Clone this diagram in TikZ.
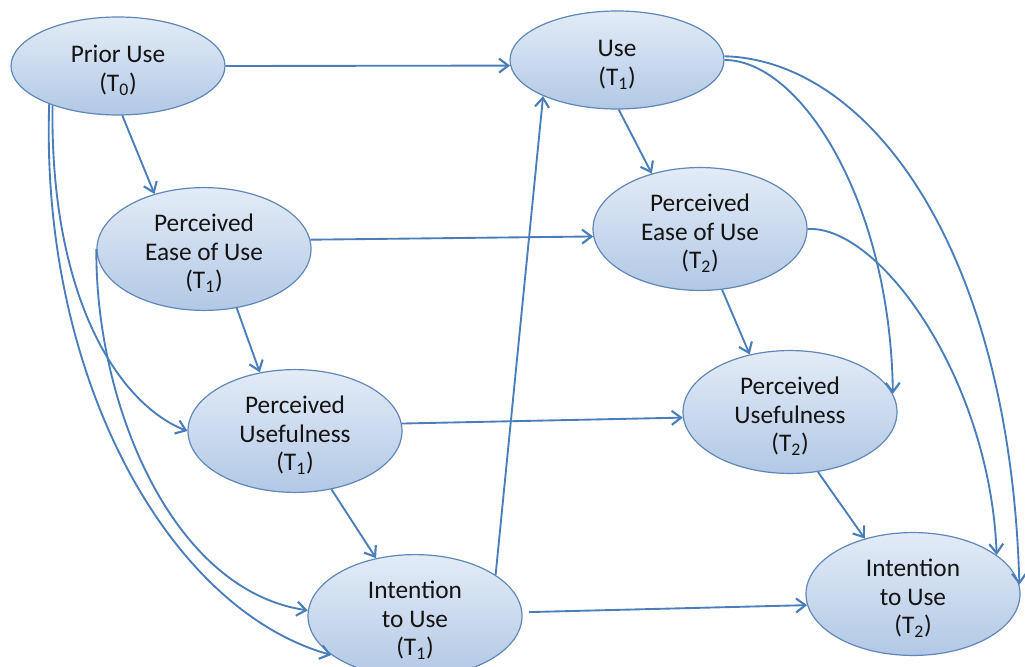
\documentclass[tikz,border=0pt]{standalone}
\usepackage{fontspec}
\setmainfont{Carlito}
\usetikzlibrary{shapes.geometric,arrows.meta}
\definecolor{linec}{HTML}{4A7EBB}
\definecolor{elborder}{HTML}{5F87BA}
\definecolor{eltop}{HTML}{E3ECF7}
\definecolor{elbot}{HTML}{B2C8E5}
\definecolor{txt}{HTML}{141414}
\newcommand{\topstrut}{\rule{0pt}{19.5pt}}
\tikzset{
  el/.style={ellipse, draw=elborder, line width=0.9pt, top color=eltop, bottom color=elbot,
    minimum width=160.5pt, minimum height=73.5pt, inner sep=0pt, align=center,
    text=txt, font=\fontsize{19}{21.5}\selectfont},
  arr/.style={draw=linec, line width=1.4pt, -{Straight Barb[length=7pt,width=10.5pt,line width=1.6pt]}},
}
\begin{document}
\begin{tikzpicture}[x=0.75pt,y=-0.75pt]
\useasboundingbox (0,0) rectangle (1025,667);
\fill[white] (0,0) rectangle (1025,667);

\node[el] (prior) at (118,66)  {\topstrut Prior Use\\(T\textsubscript{0})};
\node[el] (use1)  at (617,60)  {\topstrut Use\\(T\textsubscript{1})};
\node[el] (peou1) at (204,249) {\topstrut Perceived\\Ease of Use\\(T\textsubscript{1})};
\node[el] (peou2) at (700,229) {\topstrut Perceived\\Ease of Use\\(T\textsubscript{2})};
\node[el] (pu1)   at (295,431) {\topstrut Perceived\\Usefulness\\(T\textsubscript{1})};
\node[el] (pu2)   at (790,412) {\topstrut Perceived\\Usefulness\\(T\textsubscript{2})};
\node[el] (itu1)  at (415,616) {\topstrut Intention\\to Use\\(T\textsubscript{1})};
\node[el] (itu2)  at (913,594) {\topstrut Intention\\to Use\\(T\textsubscript{2})};

% straight connectors
\draw[arr] (prior.east) -- (use1.183);
\draw[arr] (prior.275) -- (peou1.132);
\draw[arr] (peou1.5) -- (peou2.184);
\draw[arr] (peou1.299) -- (pu1.121);
\draw[arr] (use1.272) -- (peou2.131);
\draw[arr] (peou2.290) -- (pu2.125);
\draw[arr] (pu1.4) -- (pu2.183);
\draw[arr] (pu1.302) -- (itu1.124);
\draw[arr] (pu2.295) -- (itu2.131);
\draw[arr] (itu1.27) -- (use1.206);
\draw[arr, shorten <=5pt] (itu1.2) -- (itu2.186);

% curved connectors, left side
\draw[arr] (prior.211) .. controls (50,300) and (120,405) .. (pu1.west);
\draw[arr] (prior.209) .. controls (40,380) and (170,610) .. (itu1.205);
\draw[arr] (peou1.west) .. controls (95,400) and (170,590) .. (itu1.177);

% curved connectors, right side
\draw[arr] (use1.east) .. controls (800,60) and (890,200) .. (pu2.10);
\draw[arr] (use1.2) .. controls (870,60) and (1010,250) .. (itu2.5);
\draw[arr] (peou2.east) .. controls (880,225) and (990,380) .. (itu2.25);
\end{tikzpicture}
\end{document}
